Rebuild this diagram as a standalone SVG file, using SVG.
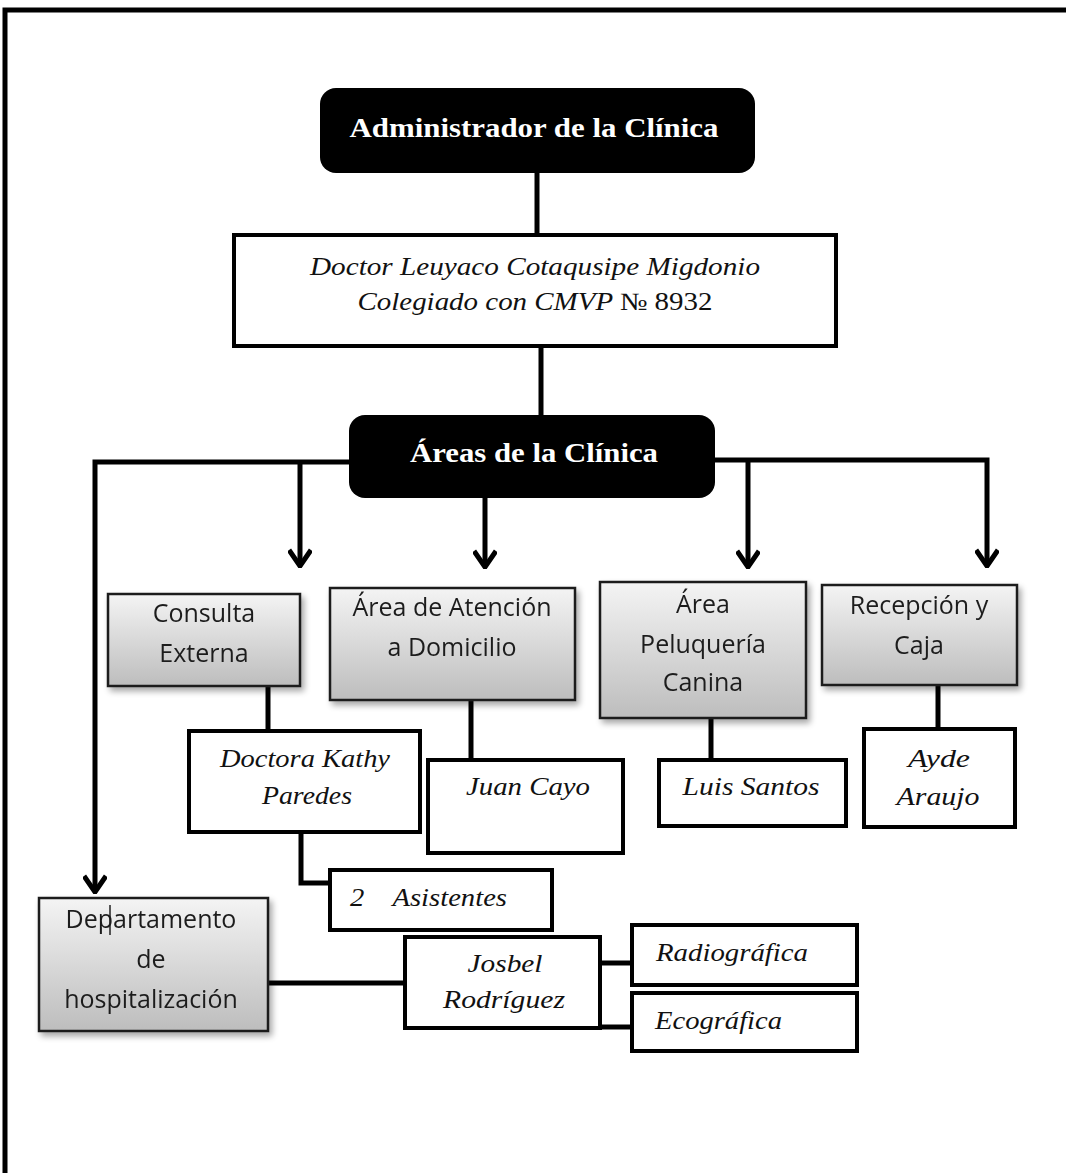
<svg xmlns="http://www.w3.org/2000/svg" width="1066" height="1173" viewBox="0 0 1066 1173">
<defs>
<linearGradient id="g" x1="0" y1="0" x2="0" y2="1">
<stop offset="0" stop-color="#f4f4f4"/>
<stop offset="1" stop-color="#bdbdbd"/>
</linearGradient>
<filter id="sh" x="-10%" y="-10%" width="130%" height="130%">
<feGaussianBlur in="SourceAlpha" stdDeviation="3"/>
<feOffset dx="3" dy="4" result="b"/>
<feComponentTransfer><feFuncA type="linear" slope="0.35"/></feComponentTransfer>
<feMerge><feMergeNode/><feMergeNode in="SourceGraphic"/></feMerge>
</filter>
<marker id="ar" viewBox="0 0 20 24" refX="18" refY="12" markerWidth="20" markerHeight="24" markerUnits="userSpaceOnUse" orient="auto">
<path d="M2,1 L18,12 L2,23" fill="none" stroke="#000" stroke-width="5"/>
</marker>
</defs>
<style>
.dark{fill:#000;}
.wt{font-family:"Liberation Serif","Times New Roman",serif;font-weight:bold;fill:#fff;font-size:27px;text-anchor:middle;}
.wb{fill:#fff;stroke:#000;stroke-width:4;}
.gb{fill:url(#g);stroke:#1a1a1a;stroke-width:2.5;}
.it{font-family:"Liberation Serif","Times New Roman",serif;font-style:italic;font-size:25px;fill:#111;text-anchor:middle;}
.its{font-family:"Liberation Serif","Times New Roman",serif;font-style:italic;font-size:25px;fill:#111;text-anchor:start;}
.sn{font-family:"Open Sans","Liberation Sans",sans-serif;font-size:25px;fill:#1e1e1e;text-anchor:middle;}
.ln{fill:none;stroke:#000;stroke-width:5;}
</style>
<g id="frame">
<path d="M5,1173 V10 H1066" fill="none" stroke="#000" stroke-width="5"/>
</g>
<g id="connectors" class="ln">
<line x1="537" y1="173" x2="537" y2="235"/>
<line x1="541" y1="346" x2="541" y2="415"/>
<polyline points="349,462 95,462 95,892" marker-end="url(#ar)"/>
<line x1="300" y1="462" x2="300" y2="566" marker-end="url(#ar)"/>
<line x1="485" y1="498" x2="485" y2="567" marker-end="url(#ar)"/>
<polyline points="715,460 987,460 987,566" marker-end="url(#ar)"/>
<line x1="748" y1="460" x2="748" y2="567" marker-end="url(#ar)"/>
<line x1="268" y1="686" x2="268" y2="731"/>
<line x1="471" y1="700" x2="471" y2="760"/>
<line x1="711" y1="718" x2="711" y2="760"/>
<line x1="938" y1="685" x2="938" y2="729"/>
<polyline points="301,832 301,883 330,883"/>
<line x1="268" y1="983" x2="405" y2="983"/>
<line x1="600" y1="963" x2="632" y2="963"/>
<line x1="600" y1="1027" x2="632" y2="1027"/>
</g>
<g id="admin">
<rect x="320" y="88" width="435" height="85" rx="16" class="dark"/>
<text x="534" y="137" class="wt" textLength="369" lengthAdjust="spacingAndGlyphs">Administrador de la Clínica</text>
</g>
<g id="doctor">
<rect x="234" y="235" width="602" height="111" class="wb"/>
<text x="535" y="275" class="it" textLength="450" lengthAdjust="spacingAndGlyphs">Doctor Leuyaco Cotaqusipe  Migdonio</text>
<text x="535" y="310" class="it" textLength="355" lengthAdjust="spacingAndGlyphs">Colegiado con CMVP <tspan font-style="normal">№ 8932</tspan></text>
</g>
<g id="areas">
<rect x="349" y="415" width="366" height="83" rx="16" class="dark"/>
<text x="534" y="462" class="wt" textLength="248" lengthAdjust="spacingAndGlyphs">Áreas de la Clínica</text>
</g>
<g id="consulta" filter="url(#sh)">
<rect x="108" y="594" width="192" height="92" class="gb"/>
<text x="204" y="622" class="sn">Consulta</text>
<text x="204" y="662" class="sn">Externa</text>
</g>
<g id="domicilio" filter="url(#sh)">
<rect x="330" y="588" width="245" height="112" class="gb"/>
<text x="452" y="616" class="sn">Área de Atención</text>
<text x="452" y="656" class="sn">a Domicilio</text>
</g>
<g id="peluqueria" filter="url(#sh)">
<rect x="600" y="582" width="206" height="136" class="gb"/>
<text x="703" y="613" class="sn">Área</text>
<text x="703" y="653" class="sn">Peluquería</text>
<text x="703" y="691" class="sn">Canina</text>
</g>
<g id="recepcion" filter="url(#sh)">
<rect x="822" y="585" width="195" height="100" class="gb"/>
<text x="919" y="614" class="sn">Recepción y</text>
<text x="919" y="654" class="sn">Caja</text>
</g>
<g id="kathy">
<rect x="189" y="731" width="231" height="101" class="wb"/>
<text x="305" y="767" class="it" textLength="170" lengthAdjust="spacingAndGlyphs">Doctora Kathy</text>
<text x="307" y="804" class="it" textLength="90" lengthAdjust="spacingAndGlyphs">Paredes</text>
</g>
<g id="juan">
<rect x="428" y="760" width="195" height="93" class="wb"/>
<text x="528" y="795" class="it" textLength="124" lengthAdjust="spacingAndGlyphs">Juan Cayo</text>
</g>
<g id="luis">
<rect x="659" y="760" width="187" height="66" class="wb"/>
<text x="751" y="795" class="it" textLength="137" lengthAdjust="spacingAndGlyphs">Luis Santos</text>
</g>
<g id="ayde">
<rect x="864" y="729" width="151" height="98" class="wb"/>
<text x="939" y="767" class="it" textLength="62" lengthAdjust="spacingAndGlyphs">Ayde</text>
<text x="938" y="805" class="it" textLength="83" lengthAdjust="spacingAndGlyphs">Araujo</text>
</g>
<g id="asistentes">
<rect x="330" y="870" width="222" height="60" class="wb"/>
<text x="350" y="906" class="its" xml:space="preserve" textLength="157" lengthAdjust="spacingAndGlyphs">2    Asistentes</text>
</g>
<g id="hospitalizacion" filter="url(#sh)">
<rect x="39" y="898" width="229" height="133" class="gb"/>
<line x1="110" y1="905" x2="110" y2="935" stroke="#222" stroke-width="1.5"/>
<text x="151" y="928" class="sn">Departamento</text>
<text x="151" y="968" class="sn">de</text>
<text x="151" y="1008" class="sn">hospitalización</text>
</g>
<g id="josbel">
<rect x="405" y="937" width="195" height="91" class="wb"/>
<text x="505" y="972" class="it" textLength="75" lengthAdjust="spacingAndGlyphs">Josbel</text>
<text x="504" y="1008" class="it" textLength="122" lengthAdjust="spacingAndGlyphs">Rodríguez</text>
</g>
<g id="radiografica">
<rect x="632" y="925" width="225" height="60" class="wb"/>
<text x="656" y="961" class="its" textLength="152" lengthAdjust="spacingAndGlyphs">Radiográfica</text>
</g>
<g id="ecografica">
<rect x="632" y="993" width="225" height="58" class="wb"/>
<text x="655" y="1029" class="its" textLength="127" lengthAdjust="spacingAndGlyphs">Ecográfica</text>
</g>
</svg>
